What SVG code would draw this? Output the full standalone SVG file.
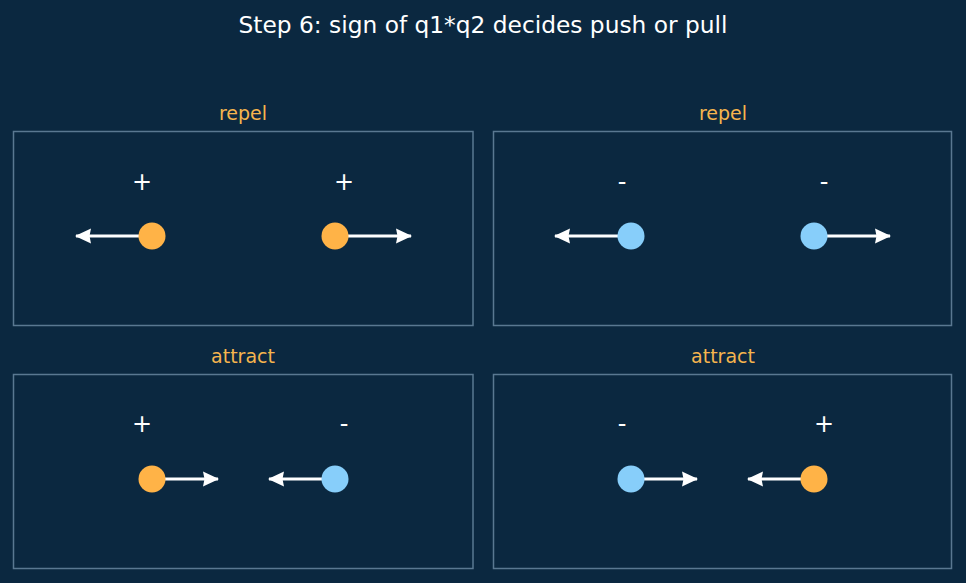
<svg xmlns="http://www.w3.org/2000/svg" width="966" height="583" viewBox="0 0 966 583">
<defs>
<marker id="ah" viewBox="0 0 16 16" refX="15" refY="8" markerWidth="16" markerHeight="16" orient="auto" markerUnits="userSpaceOnUse" overflow="visible">
<path d="M0,0.5 L16,8 L0,15.5 L1.5,8 Z" fill="#ffffff"/>
</marker>
</defs>
<style>
text{font-family:"DejaVu Sans",sans-serif;text-anchor:middle}
.title{font-size:23.3px;fill:#ffffff}
.lab{font-size:19px;fill:#f5b54e}
.sign{font-size:24px;fill:#ffffff}
.box{fill:none;stroke:#5a7891;stroke-width:1.5}
.arr{stroke:#ffffff;stroke-width:3;fill:none;marker-end:url(#ah)}
.pos{fill:#ffb347}
.neg{fill:#87cefa}
</style>
<rect width="966" height="583" fill="#0b2840"/>
<text class="title" x="483" y="33">Step 6: sign of q1*q2 decides push or pull</text>
<g id="connectors">
<line class="arr" x1="140" y1="236" x2="76" y2="236"/>
<line class="arr" x1="347" y1="236" x2="411" y2="236"/>
<line class="arr" x1="619" y1="236" x2="555" y2="236"/>
<line class="arr" x1="826" y1="236" x2="890" y2="236"/>
<line class="arr" x1="164" y1="479" x2="218" y2="479"/>
<line class="arr" x1="323" y1="479" x2="269" y2="479"/>
<line class="arr" x1="643" y1="479" x2="697" y2="479"/>
<line class="arr" x1="802" y1="479" x2="748" y2="479"/>
</g>
<g id="panel-tl">
<text class="lab" x="243" y="120">repel</text>
<rect class="box" x="13.5" y="131.5" width="459.5" height="194"/>
<text class="sign" x="142" y="190">+</text>
<text class="sign" x="344" y="190">+</text>
<circle class="pos" cx="152" cy="236" r="13.5"/>
<circle class="pos" cx="335" cy="236" r="13.5"/>
</g>
<g id="panel-tr">
<text class="lab" x="723" y="120">repel</text>
<rect class="box" x="493.5" y="131.5" width="458" height="194"/>
<text class="sign" x="622" y="190">-</text>
<text class="sign" x="824" y="190">-</text>
<circle class="neg" cx="631" cy="236" r="13.5"/>
<circle class="neg" cx="814" cy="236" r="13.5"/>
</g>
<g id="panel-bl">
<text class="lab" x="243" y="363">attract</text>
<rect class="box" x="13.5" y="374.5" width="459.5" height="194"/>
<text class="sign" x="142" y="432">+</text>
<text class="sign" x="344" y="432">-</text>
<circle class="pos" cx="152" cy="479" r="13.5"/>
<circle class="neg" cx="335" cy="479" r="13.5"/>
</g>
<g id="panel-br">
<text class="lab" x="723" y="363">attract</text>
<rect class="box" x="493.5" y="374.5" width="458" height="194"/>
<text class="sign" x="622" y="432">-</text>
<text class="sign" x="824" y="432">+</text>
<circle class="neg" cx="631" cy="479" r="13.5"/>
<circle class="pos" cx="814" cy="479" r="13.5"/>
</g>
</svg>
